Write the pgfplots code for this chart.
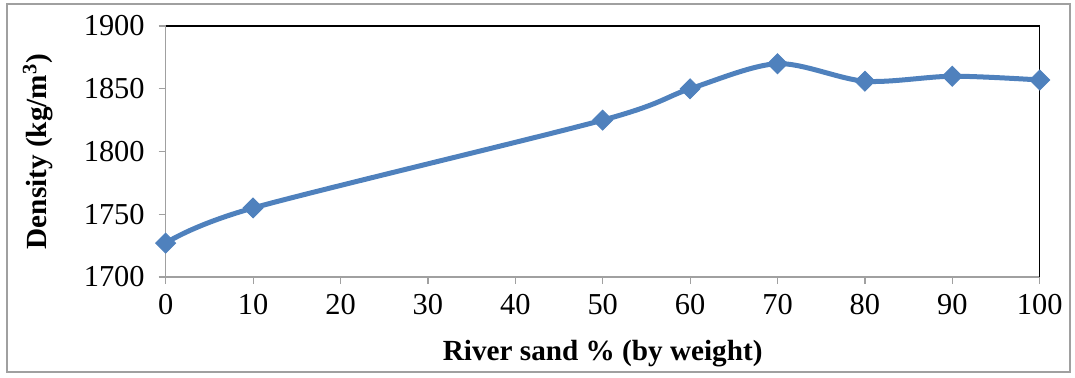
\documentclass[border=0pt]{standalone}
\usepackage{pgfplots}
\pgfplotsset{compat=1.18}
\usepackage{fontspec}
\setmainfont{Liberation Serif}
\definecolor{xlblue}{HTML}{4F81BD}
\definecolor{framegray}{HTML}{A0A0A0}
\begin{document}
\begin{tikzpicture}[x=1pt,y=1pt]
\path[use as bounding box] (0,0) rectangle (537.5,188.5);
\draw[framegray, line width=0.8pt] (3.5,2.5) rectangle (535,186.5);
\begin{axis}[
  at={(82.85pt,50pt)}, anchor=south west,
  scale only axis, width=437pt, height=125.5pt,
  xmin=0, xmax=100, ymin=1700, ymax=1900,
  xtick={0,10,...,100}, ytick={1700,1750,...,1900},
  tick align=outside, tick pos=left,
  major tick length=3.5pt,
  every tick/.style={framegray, line width=0.6pt},
  axis line style={line width=0.6pt},
  separate axis lines,
  x axis line style={framegray},
  y axis line style={framegray},
  axis x line*=bottom, axis y line*=left,
  /pgf/number format/assume math mode=true,
  /pgf/number format/1000 sep={},
  tick label style={font=\fontsize{15.2}{17}\selectfont, black},
  xticklabel style={yshift=-1.5pt},
  yticklabel style={xshift=-3.5pt},
  xlabel={\textbf{River sand \% (by weight)}},
  ylabel={\textbf{Density (kg/m\textsuperscript{3})}},
  label style={font=\fontsize{14.6}{16}\selectfont},
  xlabel style={at={(axis description cs:0.5,-0.307)}, anchor=center},
  ylabel style={at={(axis description cs:-0.146,0.5)}, anchor=center},
  clip=false,
]
\addplot[color=xlblue, line width=2.5pt, smooth, tension=0.5,
  mark=square*, mark size=3.5pt, mark options={rotate=45, fill=xlblue, draw=xlblue, line width=0.5pt}]
  coordinates {(0,1727) (10,1755) (50,1825) (60,1850) (70,1870) (80,1856) (90,1860) (100,1857)};
\draw[black, line width=0.6pt] (axis cs:0,1900) -- (axis cs:100,1900) -- (axis cs:100,1700);
\end{axis}
\end{tikzpicture}
\end{document}
